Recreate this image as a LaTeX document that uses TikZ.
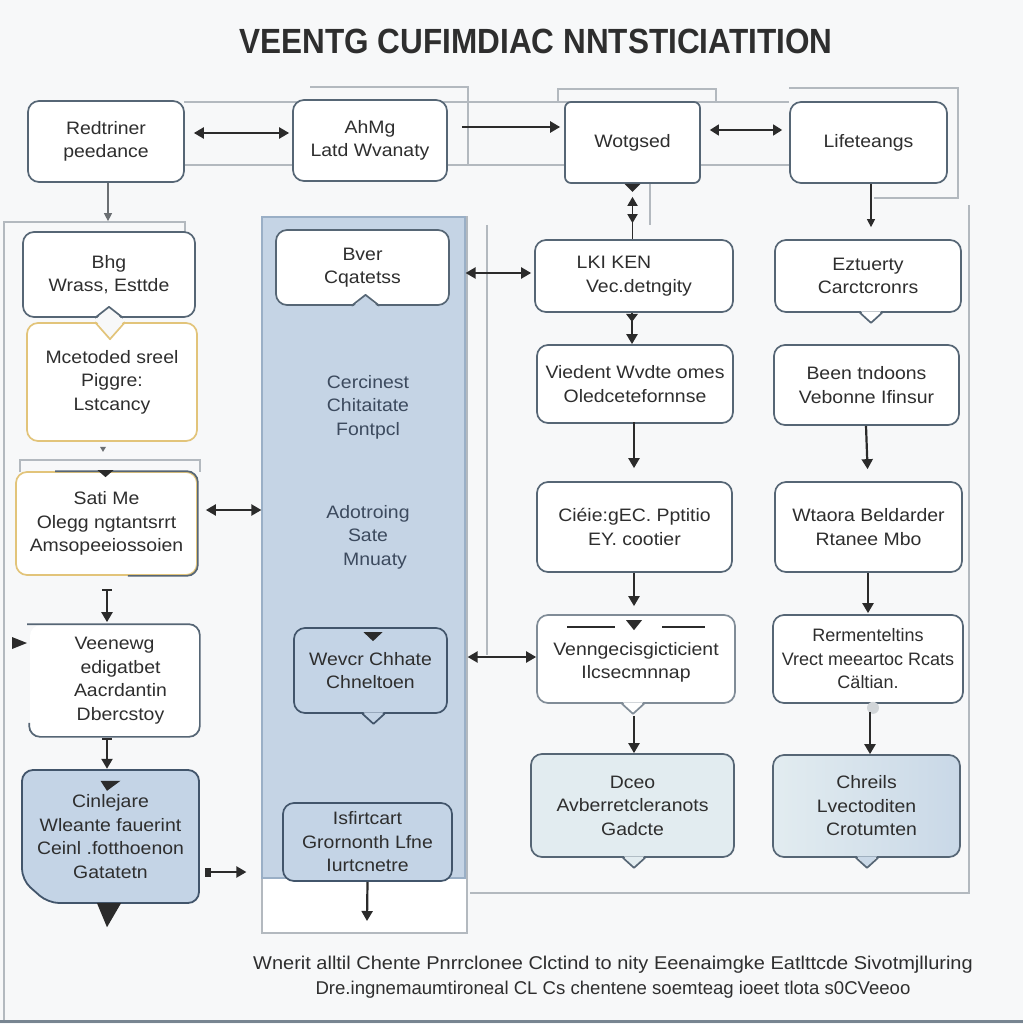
\documentclass[tikz,border=0pt]{standalone}
\usepackage{fontspec}
\setmainfont{Liberation Sans}
\newfontfamily\wideff[FakeStretch=1.08]{Liberation Sans}
\usetikzlibrary{arrows.meta,calc}
\definecolor{bgc}{HTML}{F7F8F9}
\definecolor{bordc}{HTML}{566675}
\definecolor{goldc}{HTML}{E2C47A}
\definecolor{panelc}{HTML}{C5D4E5}
\definecolor{panelb}{HTML}{9AAFC6}
\definecolor{bluef}{HTML}{C4D4E6}
\definecolor{blueb}{HTML}{42556B}
\definecolor{paleA}{HTML}{E2ECF0}
\definecolor{paleB}{HTML}{C9D8E7}
\definecolor{txtc}{HTML}{2E2E2E}
\definecolor{ptxt}{HTML}{3C4A5E}
\definecolor{framec}{HTML}{B3B9BF}
\definecolor{arrc}{HTML}{2B2B2B}
\newcommand\boxfont{\wideff\fontsize{18}{23.5}\selectfont}
\newcommand\narrowboxfont{\fontsize{18}{23.5}\selectfont}
\begin{document}
\begin{tikzpicture}[x=1pt,y=-1pt,
  bx/.style={draw=bordc, fill=white, line width=1.7pt, rounded corners=11pt,
    align=center, inner sep=0pt, font=\boxfont, text=txtc},
  sz/.style 2 args={minimum width=#1pt, minimum height=#2pt},
  frm/.style={draw=framec, line width=1.1pt},
  arr/.style={draw=arrc, line width=2.2pt, -{Triangle[width=11pt,length=10pt]}},
  darr/.style={draw=arrc, line width=2.2pt, {Triangle[width=11pt,length=10pt]}-{Triangle[width=11pt,length=10pt]}},
  thinarr/.style={draw=arrc, line width=1.2pt, -{Triangle[width=8pt,length=8pt]}},
  tri/.style={fill=arrc}]
\fill[bgc] (0,0) rectangle (1023,1024);
\useasboundingbox (0,0) rectangle (1023,1024);

% title
\node[font=\bfseries\fontsize{35}{40}\selectfont, text=txtc] (title) at (536,41)
  {\scalebox{0.9}[1]{VEENTG CUFIMDIAC NNTSTICIATITION}};

% thin background frames
\draw[frm] (310,87) -- (468,87) -- (468,165);
\draw[frm] (184,102) -- (789,102);
\draw[frm] (184,165) -- (789,165);
\draw[frm] (558,102) -- (558,89) -- (716,89) -- (716,102);
\draw[frm] (789,88) -- (958,88) -- (958,198) -- (874,198);
\draw[frm] (185,236) -- (185,222) -- (4,222) -- (4,1020);
\draw[frm] (20,472) -- (20,460) -- (200,460) -- (200,472);
\draw[frm] (487,225) -- (487,655);
\draw[frm] (470,893) -- (969,893) -- (969,205);
\draw[frm] (650,183) -- (650,225);
\draw[draw=bordc!80, line width=2.5pt] (0,1021.5) -- (1023,1021.5);

% middle panel
\draw[frm, fill=white] (262,217) rectangle (467,933);
\node[fill=panelc, draw=panelb, line width=1.2pt, minimum width=203pt, minimum height=661pt, inner sep=0pt] (panel) at (363.5,547.5) {};

% top row
\node[bx, sz={156}{81}] (A1) at (106,141.5) {Redtriner\\peedance};
\node[bx, sz={154}{81}] (A2) at (370,140.5) {AhMg\\Latd Wvanaty};
\node[bx, sz={135}{81}, rounded corners=6pt] (A3) at (632.5,142.5) {Wotgsed};
\node[bx, sz={157}{81}] (A4) at (868.5,142.5) {Lifeteangs};

% left column
\node[bx, sz={172}{85}] (B1) at (109,274.5) {Bhg\\Wrass, Esttde};
\node[bx, sz={170}{118}, draw=goldc] (C1) at (112,382) {Mcetoded sreel\\Piggre:\\Lstcancy};
\node[bx, sz={181}{103}, draw=goldc] (D1) at (106.5,523.5) {Sati Me\\Olegg ngtantsrrt\\Amsopeeiossoien};
\draw[bordc, line width=1.7pt, rounded corners=11pt] ([xshift=40pt]D1.north west) -- (D1.north east) -- (D1.south east) -- ([xshift=-70pt]D1.south east);
\node[bx, sz={169}{111}, draw=none] (E1) at (114.5,680.5) {Veenewg\\\hspace*{12pt}edigatbet\\\hspace*{12pt}Aacrdantin\\\hspace*{12pt}Dbercstoy};
\draw[bordc, line width=1.7pt, rounded corners=11pt] ([xshift=-2pt]E1.north west) -- (E1.north east) -- (E1.south east) -- (E1.south west) -- ([yshift=14pt]E1.south west);
% F1 cut-corner shape
\draw[blueb, fill=bluef, line width=1.8pt, rounded corners=11pt] (22,770) -- (199,770) -- (199,903) -- (48,903) -- (22,880) -- cycle;
\node[align=center, font=\boxfont, text=txtc, inner sep=0pt, minimum width=177pt, minimum height=133pt] (F1) at (110.5,836.5) {Cinlejare\\Wleante fauerint\\Ceinl .fotthoenon\\Gatatetn};

% panel contents
\node[bx, sz={173}{75}] (P1) at (362.5,267.5) {Bver\\Cqatetss};
\node[align=center, font=\boxfont, text=ptxt] (T1) at (368,407) {Cercinest\\Chitaitate\\Fontpcl};
\node[align=center, font=\boxfont, text=ptxt] (T2) at (368,537) {Adotroing\\Sate\\\hspace*{14pt}Mnuaty};
\node[bx, sz={153}{85}, fill=bluef, draw=blueb] (P2) at (370.5,670.5) {Wevcr Chhate\\Chneltoen};
\node[bx, sz={169}{78}, fill=bluef, draw=blueb] (P3) at (367.5,842) {Isfirtcart\\Grornonth Lfne\\Iurtcnetre};

% column 3
\node[bx, sz={198}{72}] (B3) at (634,276) {LKI KEN\hspace*{40pt}\\\hspace*{10pt}Vec.detngity};
\node[bx, sz={196}{78}] (C3) at (635,384) {Viedent Wvdte omes\\Oledcetefornnse};
\node[bx, sz={195}{90}] (D3) at (634.5,527) {Ciéie:gEC. Pptitio\\EY. cootier};
\node[bx, sz={198}{88}, draw=bordc!75] (E3) at (636,659) {\\[-4pt]Venngecisgicticient\\Ilcsecmnnap};
\node[bx, sz={203}{103}, fill=paleA] (F3) at (632.5,805.5) {Dceo\\Avberretcleranots\\Gadcte};

% column 4
\node[bx, sz={186}{72}] (B4) at (868,276) {Eztuerty\\Carctcronrs};
\node[bx, sz={185}{80}] (C4) at (866.5,385) {Been tndoons\\Vebonne Ifinsur};
\node[bx, sz={187}{90}] (D4) at (868.5,527) {Wtaora Beldarder\\Rtanee Mbo};
\node[bx, sz={190}{88}, font=\narrowboxfont] (E4) at (868,659) {Rermenteltins\\Vrect meeartoc Rcats\\Cältian.};
\node[bx, sz={187}{102}, left color=paleA, right color=paleB] (F4) at (866.5,806) {Chreils\\Lvectoditen\\\hspace*{10pt}Crotumten};

% notches and callout pointers
\newcommand\calloutdown[4]{% node, x-offset, fill, border
  \fill[#3] ($(#1.south)+(#2-10,-1.5)$) -- ($(#1.south)+(#2,10)$) -- ($(#1.south)+(#2+10,-1.5)$) -- cycle;
  \draw[#4, line width=1.7pt, line join=round] ($(#1.south)+(#2-11,0)$) -- ($(#1.south)+(#2,10)$) -- ($(#1.south)+(#2+11,0)$);}
\newcommand\notchup[4]{% node, x-offset, fill, border
  \fill[#3] ($(#1.south)+(#2-13,1.5)$) -- ($(#1.south)+(#2,-11)$) -- ($(#1.south)+(#2+13,1.5)$) -- cycle;
  \draw[#4, line width=1.7pt, line join=round] ($(#1.south)+(#2-14,0)$) -- ($(#1.south)+(#2,-11)$) -- ($(#1.south)+(#2+14,0)$);}
\newcommand\notchdown[4]{% node (top), x-offset, fill, border
  \fill[#3] ($(#1.north)+(#2-14,-1.5)$) -- ($(#1.north)+(#2,17)$) -- ($(#1.north)+(#2+14,-1.5)$) -- cycle;
  \draw[#4, line width=1.7pt, line join=round] ($(#1.north)+(#2-15,0)$) -- ($(#1.north)+(#2,17)$) -- ($(#1.north)+(#2+15,0)$);}
\notchup{B1}{0}{bgc}{bordc}
\notchdown{C1}{-2}{bgc}{goldc}
\notchup{P1}{3}{panelc}{bordc}
\calloutdown{P2}{3}{bluef}{blueb}
\calloutdown{E3}{-3}{white}{bordc!75}
\calloutdown{F3}{1.5}{paleA}{bordc}
\calloutdown{B4}{3}{white}{bordc}
\calloutdown{F4}{0.5}{paleB}{bordc}
\fill[framec!60] ($(E4.south)+(5,4)$) circle (6pt);

% small triangles
\fill[arrc] ($(D1.north)+(-9,-1)$) -- ($(D1.north)+(7,-1)$) -- ($(D1.north)+(-1,6)$) -- cycle;
\fill[arrc] ($(F1.north)+(-10,11)$) -- ($(F1.north)+(10,11)$) -- ($(F1.north)+(-3.5,21)$) -- cycle;
\fill[arrc] ($(P2.north)+(-7,5)$) -- ($(P2.north)+(12,5)$) -- ($(P2.north)+(2.5,14)$) -- cycle;
\fill[arrc] (12,637) -- (12,649) -- (27,643) -- cycle;
\fill[arrc] ($(F1.south)+(-13.5,0)$) -- ($(F1.south)+(10.5,0)$) -- ($(F1.south)+(-3.5,24)$) -- cycle;
\fill[arrc] ($(E3.north)+(-10,6)$) -- ($(E3.north)+(6,6)$) -- ($(E3.north)+(-2,16)$) -- cycle;
\draw[arrc, line width=2.6pt] ($(E3.north)+(-69,13)$) -- ($(E3.north)+(-21,13)$);
\draw[arrc, line width=2.6pt] ($(E3.north)+(26,13)$) -- ($(E3.north)+(69,13)$);

% connectors
\draw[darr, shorten <=9pt, shorten >=3pt] ($(A1.east)+(0,-8.5)$) -- ($(A2.west)+(0,-7.5)$);
\draw[arr, line width=2.4pt, shorten <=14pt, shorten >=4pt] ($(A2.east)+(0,-13.5)$) -- ($(A3.west)+(0,-15.5)$);
\draw[arrc, line width=1.4pt, {Triangle[width=11pt,length=9pt]}-{Triangle[width=11pt,length=9pt]}, shorten <=9pt, shorten >=7pt] ($(A3.east)+(0,-12.5)$) -- ($(A4.west)+(0,-12.5)$);
\fill[arrc] ($(A3.south)+(-8,0)$) -- ($(A3.south)+(8,0)$) -- ($(A3.south)+(0,8)$) -- cycle;
\draw[darr, line width=1.8pt, {Triangle[width=10pt,length=9pt]}-{Triangle[width=10pt,length=9pt]}, shorten <=13pt, shorten >=16pt] (A3.south) -- ($(B3.north)+(-1.5,0)$);
\draw[arrc, line width=1.6pt] ($(B3.north)+(-1.5,-17)$) -- ($(B3.north)+(-1.5,0)$);
\draw[thinarr, draw=framec!60!black, shorten >=10pt] ($(A1.south)+(2,0)$) -- ($(B1.north)+(-1,0)$);
\draw[thinarr, shorten >=12pt] ($(A4.south)+(2.5,0)$) -- ($(B4.north)+(3,0)$);
\draw[darr, shorten >=3pt] ($(panel.east |- B3.west)+(0,-3)$) -- ($(B3.west)+(0,-3)$);
\draw[darr, shorten <=8pt] ($(D1.east)+(0,-13.5)$) -- ($(panel.west |- D1.east)+(0,-13.5)$);
\fill[arrc] ($(F1.east)+(6,31)$) rectangle ($(F1.east)+(12,40)$);
\draw[arr, shorten <=10pt, shorten >=15pt] ($(F1.east)+(0,35.5)$) -- ($(panel.west |- F1.east)+(0,35.5)$);
\draw[darr, shorten <=2pt] ($(panel.east |- E3.west)+(0,-2)$) -- ($(E3.west)+(0,-2)$);
\fill[arrc] ($(B3.south)+(-8,1)$) -- ($(B3.south)+(4,1)$) -- ($(B3.south)+(-2,9)$) -- cycle;
\draw[arr] ($(B3.south)+(-2,0)$) -- ($(C3.north)+(-3,0)$);
\draw[arr, shorten >=13pt] ($(C3.north)+(-1,78)$) -- ($(D3.north)+(-0.5,0)$);
\draw[arr, shorten >=8pt] ($(D3.south)+(-0.5,0)$) -- ($(E3.north)+(-2,0)$);
\draw[arr, shorten <=12pt] ($(E3.south)+(-2,0)$) -- ($(F3.north)+(1.5,0)$);
\draw[arr, shorten >=12pt] ($(C4.south)+(-0.5,0)$) -- ($(D4.north)+(-0.5,0)$);
\draw[arr, shorten >=1pt] ($(D4.south)+(-0.5,0)$) -- ($(E4.north)+(0,0)$);
\draw[arr, shorten <=8pt] ($(E4.south)+(2,0)$) -- ($(F4.north)+(3.5,0)$);
\draw[arr, {Bar[width=10pt]}-{Triangle[width=11pt,length=10pt]}, shorten >=2pt] ($(D1.south)+(0.5,13)$) -- ($(E1.north)+(-7.5,0)$);
\draw[arr, {Bar[width=10pt]}-{Triangle[width=11pt,length=10pt]}, shorten >=1pt] ($(E1.south)+(-7.5,1)$) -- ($(F1.north)+(-3.5,0)$);
\fill[framec!60!black] ($(C1.south)+(-12,5)$) -- ($(C1.south)+(-6,5)$) -- ($(C1.south)+(-9,10)$) -- cycle;
\coordinate (P3end) at (367,921);
\draw[arr] (P3.south) -- (P3end);

% bottom text
\node[font=\wideff\fontsize{18.5}{25}\selectfont, text=txtc, align=center] (foot) at (613,977)
  {Wnerit alltil Chente Pnrrclonee Clctind to nity Eeenaimgke Eatlttcde Sivotmjlluring\\
   \scalebox{0.93}[1]{Dre.ingnemaumtironeal CL Cs chentene soemteag ioeet tlota s0CVeeoo}};
\end{tikzpicture}
\end{document}
